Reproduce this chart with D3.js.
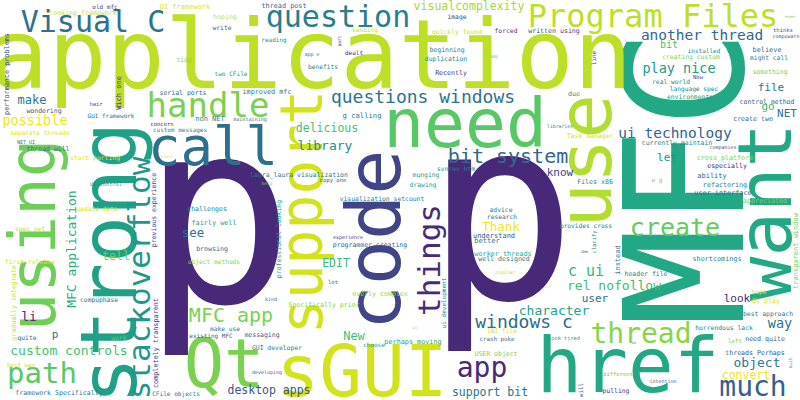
<!DOCTYPE html>
<html lang="en">
<head>
<meta charset="utf-8">
<title>Word cloud</title>
<script src="https://cdn.jsdelivr.net/npm/d3@7/dist/d3.min.js"></script>
<style>
  body { margin: 0; background: #fff; }
  svg text { font-family: "DejaVu Sans Mono", monospace; }
</style>
</head>
<body>
<script>
// words in the cloud, biggest first
var words = [
  "p","p","MFC","application","strong","href","code","want","Qt","sGUI",
  "need","use","using","support","call","handle","Program Files","stackoverflow","things","question",
  "Visual C","path","thread","much","app","create","MFC app","bit system","questions windows","windows c",
  "c ui","another thread","ui technology","possible","play nice","way","rel nofollow","character","custom controls","MFC application",
  "library","object","li","see","Thank","make","New","EDIT","visualcomplexity","delicious",
  "convert","desktop apps","support bit","tell","look","user","know","let","file","go",
  "NET","p","bit","old mfc","looking framework","UI framework","performance problems","tidy","serial ports","Wich one",
  "hair","wondering","GUI framework","concern","custom messages","separate threads","NET UI","thread will","start porting","start",
  "UI control","previous experience","update data","spec yet","first release","challenges","fairly well","browsing","object methods","laura_laura visualization",
  "help","copy one","visualization setcount","experience","programmer creating","professional looking","advice","research","understand","better",
  "worker threads","well designed","svnrev htm","munging","drawing","Files x86","Task manager","provides cross","clarify","ibm",
  "instead","currently maintain","companies","cross platform","especially","ability","e g","refactoring","user interface","appreciated",
  "shortcomings","transparent window","header file","hope","Qt play","best approach","horrendous lack","left","need quite","threads Perhaps",
  "suit","intention","different","pulling","vc","ui development","similar","ul","overly complex","INI file",
  "crash puke","perhaps moving","look tired","USER object","will","lot","kind","Specifically prior","make use","existing MFC",
  "messaging","choose","GUI developer","developing","gradually integrate","compuphase","quite","work","completely transparent","best way",
  "framework Specifically","CFile objects","thread post","hoping","write","reading","sending","part","app e","dealt",
  "benefits","two CFile","improved mfc","g calling","maintaining","non NET","image","quickly found","forced","written using",
  "beginning","duplication","Recently","amp","line","due","libraries","installed","creating custom","believe",
  "might call","thinks","compuware","even","Now","something","real world","language spec","environments","control method",
  "create two"
];

// relative weight of each word
var weights = [
  255,253,165,97,78,76,75,74,67,71,
  68,74,64,58,54,34,32,31,31,30,
  30,29,28,28,28,25,20,20,18,18,
  15,14.5,14.5,13.5,13.5,13.5,13,13,13,13,
  13,13,13,12.5,12.5,12,12,11.5,11.5,11.5,
  11.5,11.5,11.5,11.5,11,11,11,11,11,11,
  11,11,10,6,6.6,7,6.8,6.2,6.5,7,
  5.5,6.5,6,5.5,6,6.2,5,6.5,6.4,4,
  5.3,6.5,6.2,6.2,6.4,6.6,6.8,6.6,6.2,6.5,
  4.5,5.6,6.4,5,6.5,6.5,6.4,6.2,7,7,
  6.8,6.6,6.3,6.4,6.4,6.6,6.4,6.2,5.5,4,
  7,6.5,5,6.7,6.6,7,6,6.7,6.8,6.7,
  6.8,7,6.5,6.2,6.7,6.4,6.4,5.8,6.6,6.6,
  4.5,5,5.5,6.4,4,6,4.8,4,6.6,6.2,
  5.8,6.8,5.3,6.5,6,5.5,5,6.6,6.2,6,
  6.5,6,6.4,5,6.6,6.3,6.3,6.2,6.8,5.8,
  6.6,6.1,6.8,6.6,6.3,6,6.2,4.5,5,6,
  6.2,6.1,6.8,7.2,5.1,7,6.3,6.4,6.4,6.6,
  6.5,6.4,6.6,4.5,6,6.6,4.8,6,6.4,6.9,
  6.3,5.5,5,4.2,5.5,6.5,6.3,6.2,6.4,6.5,
  6.6
];

// position of each word on the viridis ramp
var tones = [
  .11,.11,.6,.9,.57,.6,.2,.6,.8,.93,
  .74,.88,.78,.93,.36,.8,.9,.53,.12,.42,
  .37,.74,.82,.3,.12,.76,.8,.33,.38,.34,
  .66,.32,.32,.98,.53,.37,.68,.58,.7,.62,
  .5,.4,.12,.37,.98,.4,.7,.68,.86,.7,
  .98,.25,.38,.77,.12,.38,.18,.5,.38,.67,
  .38,.38,.7,.2,.92,.95,.22,.82,.35,.15,
  .3,.28,.38,.1,.45,.95,.4,.38,.95,.95,
  .5,.2,.92,.9,.93,.48,.55,.35,.82,.4,
  .8,.3,.45,.15,.3,.55,.4,.38,.27,.4,
  .6,.42,.45,.55,.55,.45,.93,.45,.4,.3,
  .35,.45,.25,.8,.12,.32,.8,.45,.38,.8,
  .45,.78,.45,.92,.95,.38,.45,.82,.3,.3,
  .3,.3,.78,.15,.35,.45,.9,.85,.82,.95,
  .3,.55,.55,.8,.3,.3,.3,.8,.42,.3,
  .3,.55,.42,.3,.9,.38,.3,.78,.15,.92,
  .4,.4,.3,.92,.3,.5,.9,.2,.45,.12,
  .45,.55,.4,.4,.4,.45,.2,.92,.15,.2,
  .45,.45,.15,.8,.22,.55,.45,.45,.8,.3,
  .45,.3,.3,.8,.2,.8,.45,.45,.55,.3,
  .3
];

// cloud layout: [x, y, vertical]
var layout = [
  [218,302,0],[501,298,0],[743,178,1],[311,88,0],[136,263,1],[628,392,0],[400,240,1],[791,212,1],[224,387,0],[362,396,0],
  [465,147,0],[611,161,1],[55,235,1],[322,212,1],[213,165,0],[208,117,0],[653,27,0],[150,278,1],[440,260,1],[338,27,0],
  [93,32,0],[42,383,0],[641,343,0],[753,396,0],[482,377,0],[675,236,0],[231,322,0],[508,163,0],[423,103,0],[524,328,0],
  [586,276,0],[702,40,0],[675,138,0],[35,125,0],[679,73,0],[780,328,0],[614,290,0],[554,315,0],[69,355,0],[76,249,1],
  [325,150,0],[757,367,0],[29,321,0],[193,237,0],[501,231,0],[32,104,0],[354,340,0],[336,267,0],[469,10,0],[327,132,0],
  [746,379,0],[269,394,0],[490,396,0],[116,260,0],[737,302,0],[595,302,0],[560,176,0],[667,161,0],[771,91,0],[768,110,0],
  [787,117,0],[55,338,0],[669,48,0],[105,7,0],[83,13,0],[185,7,0],[9,74,1],[184,60,0],[183,93,0],[121,93,1],
  [96,104,0],[44,111,0],[111,116,0],[162,124,0],[180,130,0],[40,133,0],[26,142,0],[48,149,0],[95,158,0],[167,157,0],
  [106,184,0],[156,210,1],[97,209,0],[30,229,0],[30,262,0],[207,209,0],[214,223,0],[212,249,0],[214,262,0],[299,175,0],
  [267,184,0],[333,180,0],[382,199,0],[348,237,0],[370,245,0],[281,239,1],[501,210,0],[502,217,0],[494,236,0],[487,241,0],
  [503,254,0],[504,259,0],[456,169,0],[426,175,0],[423,185,0],[595,182,0],[590,136,0],[586,226,0],[596,242,1],[584,252,0],
  [620,260,1],[677,143,0],[723,147,0],[725,158,0],[727,166,0],[712,176,0],[657,180,0],[725,185,0],[723,193,0],[765,201,0],
  [717,259,0],[798,251,1],[646,274,0],[759,292,0],[766,301,0],[768,314,0],[724,328,0],[735,341,0],[765,339,0],[755,353,0],
  [792,363,1],[663,381,0],[618,374,0],[616,391,0],[634,343,0],[446,303,1],[505,272,0],[415,328,0],[380,294,0],[502,331,0],
  [497,339,0],[413,342,0],[564,338,0],[496,354,0],[583,390,1],[333,282,0],[271,299,0],[324,305,0],[225,329,0],[211,336,0],
  [262,335,0],[374,345,0],[277,348,0],[267,372,0],[16,303,1],[99,300,0],[27,338,0],[119,338,0],[158,343,1],[21,365,0],
  [59,393,0],[176,394,0],[284,6,0],[225,17,0],[222,28,0],[274,40,0],[365,30,0],[341,41,1],[312,54,0],[354,53,0],
  [323,67,0],[231,74,0],[267,92,0],[362,116,0],[250,119,0],[210,119,0],[457,17,0],[457,32,0],[506,31,0],[554,31,0],
  [447,50,0],[446,59,0],[451,73,0],[494,57,0],[596,58,1],[574,94,0],[560,126,0],[704,51,0],[691,57,0],[767,50,0],
  [769,58,0],[783,30,0],[786,36,0],[790,17,0],[698,77,0],[770,72,0],[671,82,0],[694,89,0],[690,97,0],[767,102,0],
  [753,119,0]
];

var w = 800;
var h = 400;

var data = words.map(function(d, i) {
  return { text: d, weight: weights[i], tone: tones[i],
           x: layout[i][0], y: layout[i][1], vertical: layout[i][2] === 1 };
});

var xScale = d3.scaleLinear().domain([0, 800]).range([0, w]);
var yScale = d3.scaleLinear().domain([0, 400]).range([0, h]);
var sizeScale = d3.scaleLinear().domain([0, 255]).range([0, 255]);

var svg = d3.select('body').append('svg')
            .attr('width', w)
            .attr('height', h);

svg.append('rect')
   .attr('width', w)
   .attr('height', h)
   .attr('fill', 'white');

svg.selectAll('text.word')
   .data(data)
   .enter()
   .append('text')
   .attr('class', 'word')
   .attr('transform', function(d) {
     return 'translate(' + xScale(d.x) + ',' + yScale(d.y) + ')' + (d.vertical ? ' rotate(-90)' : '');
   })
   .attr('text-anchor', 'middle')
   // small horizontal words are placed by their middle
   .attr('dy', function(d) { return (!d.vertical && d.weight < 10) ? '0.32em' : 0; })
   .attr('font-size', function(d) { return sizeScale(d.weight) + 'px'; })
   .attr('fill', function(d) { return d3.interpolateViridis(d.tone); })
   .text(function(d) { return d.text; });
</script>
</body>
</html>
